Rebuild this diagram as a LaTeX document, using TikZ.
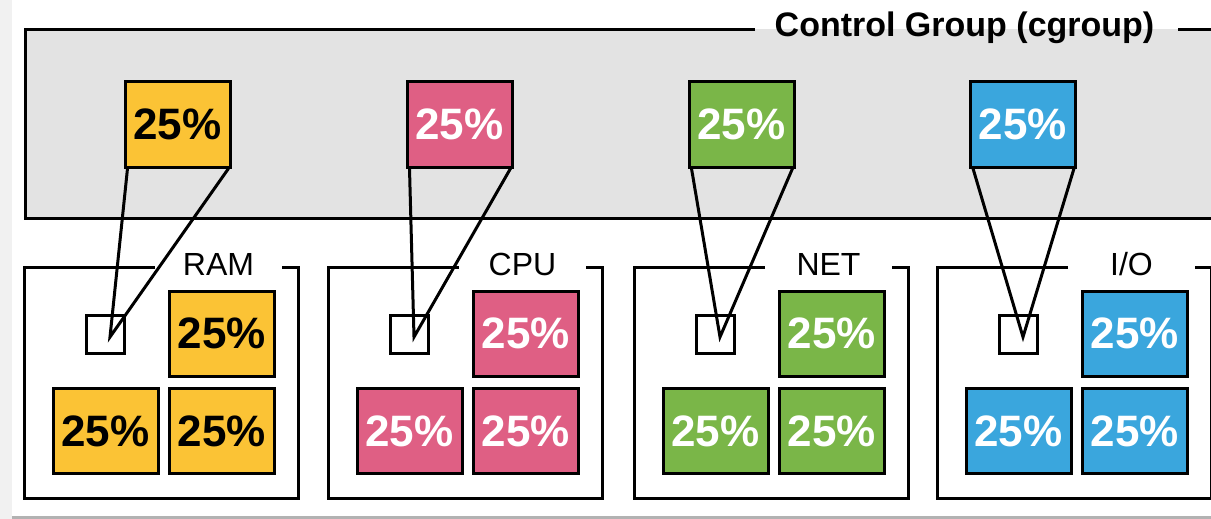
\documentclass[tikz,border=0pt]{standalone}
\usepackage{fontspec}
\setmainfont{Liberation Sans}
\usetikzlibrary{positioning,calc}
\definecolor{ramyellow}{HTML}{FBC335}
\definecolor{cpupink}{HTML}{DF5F84}
\definecolor{netgreen}{HTML}{7AB648}
\definecolor{ioblue}{HTML}{3AA6DD}
\definecolor{cgroupgray}{HTML}{E3E3E3}
\definecolor{pagegray}{HTML}{F1F1F1}
\tikzset{
  sharebox/.style={
    draw,
    line width=3pt,
    minimum width=105pt,
    minimum height=85pt,
    inner sep=0pt,
    font=\fontsize{44}{44}\selectfont\bfseries
  },
  slotbox/.style={draw, line width=3pt, fill=white, minimum size=38pt, inner sep=0pt},
  frame/.style={line width=3pt},
  link/.style={line width=3pt, line join=miter},
  paneltitle/.style={anchor=base, font=\fontsize{32}{32}\selectfont},
  grouptitle/.style={anchor=base, font=\fontsize{34}{34}\selectfont\bfseries}
}

\begin{document}
\begin{tikzpicture}[x=1pt, y=-1pt]
\useasboundingbox (0,0) rectangle (1211,519);
\clip (0,0) rectangle (1211,519);
\fill[white] (0,0) rectangle (1211,519);
\fill[pagegray] (0,0) rectangle (12,519);
\fill[gray!60] (12,516) rectangle (1211,519);

% the cgroup, title set into its top border
\fill[cgroupgray] (25,29.5) rectangle (1220,218);
\draw[frame] (755,29.5) -- (25,29.5) -- (25,218) -- (1220,218);
\draw[frame] (1178,29.5) -- (1220,29.5);
\node[grouptitle] (cgtitle) at (964.5,37) {Control Group (cgroup)};

% one column per resource: name / fill / text colour / label / frame left / share x
\foreach \res/\fillc/\textc/\lbl/\px/\tx in {
    ram/ramyellow/black/RAM/23/177.5,
    cpu/cpupink/white/CPU/327/459.5,
    net/netgreen/white/NET/633/741.5,
    io/ioblue/white/{I/O}/936/1023}{
  \draw[frame] (\px+132,267.5) -- (\px+1.5,267.5) -- (\px+1.5,498)
    -- (\px+275.5,498) -- (\px+275.5,267.5) -- (\px+259,267.5);
  \node[paneltitle] (label-\res) at (\px+195.5,275) {\lbl};
  \node[slotbox] (slot-\res) at (\px+82,334) {};
  \coordinate (tip-\res) at (\px+87,337);
  \node[sharebox, fill=\fillc, text=\textc] (parta-\res) at (\px+199,333.5) {25\%};
  \node[sharebox, fill=\fillc, text=\textc] (partb-\res) at (\px+82.5,431) {25\%};
  \node[sharebox, fill=\fillc, text=\textc] (partc-\res) at (\px+199,431) {25\%};
  % the cgroup's share of this resource
  \node[sharebox, fill=\fillc, text=\textc] (share-\res) at (\tx,124.5) {25\%};
  \draw[link] ([xshift=4pt]share-\res.south west) -- (tip-\res)
    -- ([xshift=-3pt]share-\res.south east);
}
\end{tikzpicture}
\end{document}
